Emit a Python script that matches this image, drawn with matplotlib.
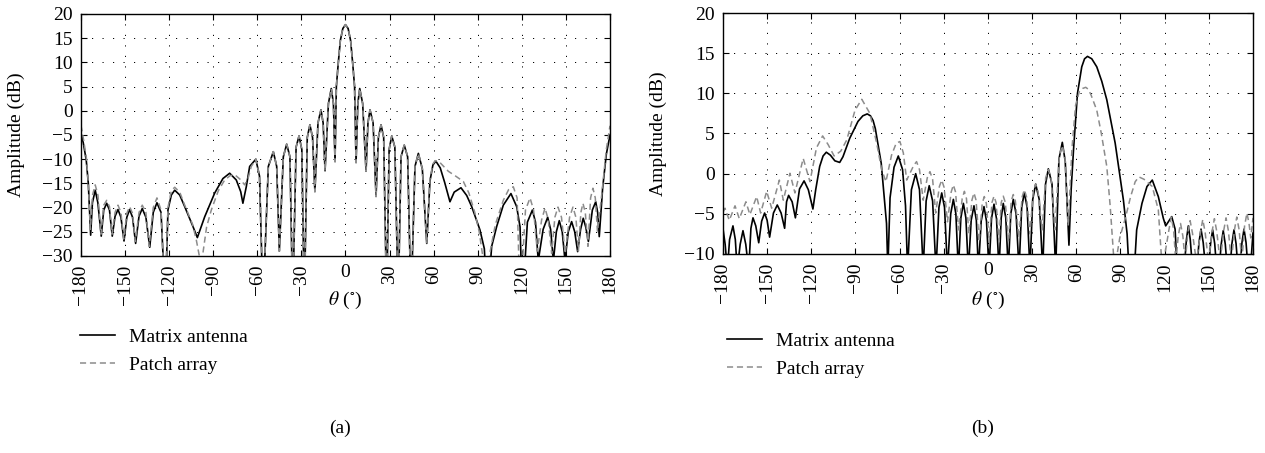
import numpy as np
import matplotlib.pyplot as plt
from matplotlib.lines import Line2D

plt.rcParams['font.family'] = ['Liberation Serif', 'DejaVu Serif']
plt.rcParams['mathtext.fontset'] = 'stix'
plt.rcParams['font.size'] = 14

# ---- panel (a): values (theta in deg, amplitude in dB)
# main beam region is shared by both curves
a_center_theta = [-56.1, -52.5, -49.1, -46.8, -45.0,
                  -42.3, -40.0, -37.8, -35.9,
                  -33.6, -31.6, -29.7, -28.0,
                  -26.0, -24.2, -22.4, -20.8,
                  -18.7, -16.7, -15.2, -13.9,
                  -11.6, -9.65, -8.2, -7.1,
                  -6.2, -5.0, -3.5, -1.8, 0.0, 1.8, 3.5, 5.0, 6.2, 7.2,
                  8.4, 9.7, 11.7, 14.0,
                  15.3, 16.7, 18.8, 20.8,
                  22.4, 24.2, 26.0, 28.0,
                  29.7, 31.5, 33.6, 35.9,
                  37.8, 40.0, 42.3, 44.6,
                  47.3, 49.6, 52.3, 55.3]
a_center_db = [-40, -11.5, -8.45, -11.5, -29,
               -9.5, -6.9, -9.5, -40,
               -7.5, -5.2, -8.0, -40,
               -5.5, -2.9, -5.5, -16.7,
               -2.5, 0.2, -2.5, -12.4,
               1.5, 4.6, 1.5, -10.5,
               5.0, 9.5, 14.5, 17.0, 17.8, 17.0, 14.5, 9.5, 5.0, -10.7,
               1.5, 4.6, 1.5, -12.5,
               -2.5, 0.2, -2.5, -17.7,
               -5.5, -2.9, -5.5, -40,
               -8.0, -5.2, -7.5, -40,
               -9.5, -7.1, -9.5, -40,
               -11.5, -8.8, -12.0, -27.4]

a_matrix_left_theta = [-180, -178.5, -176.4, -175.0, -173.4,
                       -172.2, -170.3, -168.5, -166.2,
                       -164.5, -162.5, -160.6, -158.7,
                       -156.8, -154.8, -152.8, -150.7,
                       -148.8, -146.9, -144.9, -142.8,
                       -140.5, -138.3, -135.8, -133.2,
                       -130.8, -128.3, -125.5, -122.6,
                       -120.8, -118.5, -116.2, -112.8, -109.4, -103.8, -100.8,
                       -95.8, -89.0, -83.4, -78.8, -74.3, -71.3, -69.8, -67.5,
                       -65.2, -61.0, -58.5]
a_matrix_left_db = [-4.6, -6.5, -10.2, -15.0, -25.7,
                    -19.0, -16.4, -19.0, -25.9,
                    -20.5, -19.1, -20.5, -25.9,
                    -21.8, -20.4, -22.0, -26.9,
                    -22.0, -20.4, -22.0, -27.4,
                    -21.8, -20.2, -22.0, -28.2,
                    -21.0, -19.0, -21.0, -40,
                    -20.5, -17.4, -16.4, -17.4, -19.8, -23.9, -26.2,
                    -21.9, -17.0, -14.0, -12.9, -14.3, -16.7, -19.1, -15.7,
                    -11.5, -10.0, -13.5]
a_matrix_right_theta = [57.5, 59.5, 61.5, 64.5, 67.5, 71.1, 74.0, 78.6, 82.5,
                        85.9, 91.5, 94.5, 96.5, 99.5, 102.9, 107.4, 112.6,
                        116.5, 118.8, 120.4,
                        123.8, 127.2, 129.3, 131.2,
                        134.5, 137.6, 139.6, 141.5,
                        143.5, 145.5, 147.5, 149.4,
                        151.6, 153.9, 156.0, 158.0,
                        160.0, 161.8, 163.5, 165.3,
                        168.0, 170.3, 171.6, 172.7,
                        175.0, 177.5, 180.0]
a_matrix_right_db = [-14.5, -11.2, -10.4, -11.8, -14.8, -18.8, -16.8, -15.9, -17.5,
                     -19.8, -24.6, -28.5, -40, -28, -23.9, -19.5, -17.1,
                     -19.8, -24, -40,
                     -23, -20.5, -23, -31,
                     -24.5, -22.0, -24.5, -31,
                     -25, -22.7, -25, -31,
                     -25, -22.9, -25, -29.1,
                     -24.5, -22.2, -24, -27.0,
                     -20.5, -18.8, -21, -26.0,
                     -16, -9, -5.0]

a_patch_left_theta = [-180, -178.5, -176.4, -175.0, -173.6,
                      -172.2, -170.3, -168.4, -166.4,
                      -164.5, -162.5, -160.6, -158.9,
                      -156.8, -154.8, -152.8, -150.9,
                      -148.8, -146.9, -144.9, -143.0,
                      -140.5, -138.3, -135.8, -133.6,
                      -130.8, -128.3, -125.5, -122.8,
                      -120.8, -118.5, -116.2, -112.8, -109.4, -104.0, -101.5, -98.2,
                      -94.5, -91.3, -86.5, -82.2, -78.5, -75.4, -71.5, -68.6,
                      -66.3, -64.1, -61.0, -58.5]
a_patch_left_db = [-3.0, -5.5, -9.5, -15.0, -24.5,
                   -17.5, -15.3, -17.5, -25.5,
                   -19.5, -18.5, -19.8, -25.5,
                   -21.0, -19.5, -21.0, -26.5,
                   -21.2, -19.8, -21.2, -27.0,
                   -21.0, -19.5, -21.0, -28.0,
                   -20.0, -18.0, -20.5, -40,
                   -20.0, -16.5, -15.8, -16.8, -19.5, -23.5, -26.7, -32,
                   -24.0, -20.5, -16.5, -14.3, -13.4, -13.2, -14.2, -15.3,
                   -14.0, -11.5, -10.0, -13.5]
a_patch_right_theta = [57.5, 59.5, 61.0, 64.0, 70.0, 75.0, 80.2, 84.0, 88.0,
                       91.0, 93.4, 95.0, 98.5, 102.0, 107.4, 111.0, 114.2,
                       116.8, 118.8,
                       122.5, 125.6, 128.0, 130.5,
                       133.5, 135.8, 138.0, 140.3,
                       142.5, 144.6, 147.0, 149.5,
                       152.5, 154.8, 156.8, 158.5,
                       160.2, 161.6, 163.2, 165.0,
                       166.8, 168.4, 170.0, 171.5,
                       174.5, 177.5, 180.0]
a_patch_right_db = [-14.0, -11.0, -10.3, -10.6, -12.5, -13.5, -14.6, -17.0, -21.0,
                    -25.0, -30.0, -40, -29.0, -23.5, -18.5, -16.3, -15.7,
                    -18.0, -40,
                    -20.5, -18.0, -20.5, -29,
                    -22.5, -20.1, -22.5, -29.5,
                    -22.0, -19.9, -22.0, -29.5,
                    -22.0, -19.9, -22.0, -29,
                    -21.0, -19.1, -21.0, -28,
                    -18.0, -16.0, -18.0, -25,
                    -17.0, -8.0, -3.1]

# ---- panel (b)
b_matrix_theta = [-180, -178.5, -177.0,
                  -175.5, -173.2, -171.6, -170.3,
                  -168.3, -166.4, -164.5, -162.5,
                  -161.0, -159.6, -157.7, -155.7,
                  -153.7, -151.7, -150.0, -148.3,
                  -145.7, -143.1, -140.5, -138.1,
                  -136.8, -135.4, -133.0, -130.8,
                  -128.0, -124.9, -122.0, -118.9,
                  -117.0, -114.3, -112.0, -109.8, -107.0, -104.0, -100.7, -98.5,
                  -93.9, -88.3, -85.0, -82.0, -79.8, -78.0, -76.5, -72.5, -68.9, -68.0,
                  -66.5, -63.8, -60.9, -58.0, -56.0, -54.6,
                  -52.0, -49.1, -46.5, -44.0,
                  -42.0, -39.9, -37.6, -35.3,
                  -33.3, -31.4, -29.5, -27.5,
                  -25.3, -23.5, -21.8, -20.1,
                  -18.4, -16.7, -15.0, -13.3,
                  -11.4, -9.5, -7.9, -6.5,
                  -4.6, -2.7, -1.0, 0.7,
                  2.4, 4.1, 5.8, 7.5,
                  9.0, 10.4, 12.1, 13.8,
                  15.5, 17.2, 19.1, 21.1,
                  22.9, 24.7, 26.6, 28.5,
                  30.4, 32.4, 34.8, 37.2,
                  39.1, 41.0, 43.5, 46.0,
                  48.2, 50.5, 52.5, 55.0,
                  56.5, 58.1, 60.8, 63.7, 65.6, 67.6, 70.5, 73.9, 77.3, 80.7,
                  86.4, 92.0, 94.5, 97.5,
                  101.0, 104.6, 108.0, 111.6, 115.7, 119.1, 120.7, 124.8, 127.1, 128.5,
                  133.2, 134.8, 136.1, 137.4, 139.0,
                  141.8, 143.3, 144.7, 146.2, 147.9,
                  149.8, 151.2, 152.6, 154.0, 155.4,
                  157.0, 158.4, 159.8, 161.2, 162.6,
                  164.3, 165.7, 167.1, 168.5, 169.9,
                  171.1, 172.5, 173.9, 175.3, 176.7,
                  178.2, 180.0]
b_matrix_db = [-6.8, -8.8, -12,
               -8.2, -6.5, -8.2, -12,
               -8.8, -7.1, -8.8, -12,
               -6.8, -5.5, -6.5, -8.6,
               -5.9, -4.9, -5.8, -7.9,
               -4.9, -3.9, -4.9, -6.8,
               -3.5, -2.7, -3.5, -5.5,
               -1.9, -0.9, -2.0, -4.4,
               -2.0, 0.9, 2.2, 2.67, 2.3, 1.6, 1.4, 2.1,
               4.4, 6.5, 7.2, 7.44, 7.2, 6.6, 5.6, 1.3, -6.2, -12,
               -3.0, 0.8, 2.2, 0.5, -4.0, -12,
               -2.0, 0.0, -2.0, -12,
               -3.4, -1.5, -3.4, -12,
               -4.2, -2.4, -4.2, -12,
               -5.0, -3.2, -5.0, -12,
               -5.5, -3.7, -5.5, -12,
               -5.8, -4.0, -5.8, -12,
               -5.9, -4.1, -5.9, -12,
               -5.6, -3.8, -5.6, -12,
               -5.5, -3.7, -5.5, -12,
               -5.0, -3.2, -5.0, -12,
               -4.2, -2.35, -4.2, -12,
               -3.2, -1.3, -3.2, -12,
               -1.3, 0.6, -1.3, -12,
               1.8, 3.9, 1.5, -8.9,
               -2.0, 2.95, 10.0, 13.3, 14.3, 14.6, 14.3, 13.3, 11.5, 9.2,
               3.8, -3.3, -7.5, -18,
               -7.0, -3.7, -1.6, -0.8, -2.85, -5.55, -6.5, -5.35, -6.9, -12,
               -12, -8.2, -6.5, -8.2, -12,
               -12, -8.6, -6.9, -8.6, -12,
               -12, -8.7, -7.0, -8.7, -12,
               -12, -8.8, -7.1, -8.8, -12,
               -12, -8.7, -7.0, -8.7, -12,
               -12, -8.6, -6.9, -8.6, -12,
               -12, -7.4]

b_patch_theta = [-180, -178.6, -175.7, -171.8, -168.9, -164.4, -161.7, -157.1,
                 -154.4, -150.3, -146.9, -141.7, -139.0, -134.5, -131.1, -125.5,
                 -120.9, -116.5, -112.3, -108.5, -104.5, -100.0, -95.9, -90.3,
                 -85.7, -80.2, -75.6, -72.2, -69.3,
                 -65.5, -62.3, -59.8, -57.5, -55.2,
                 -50.5, -48.5, -46.5, -44.0,
                 -41.2, -39.4, -37.6, -35.5,
                 -33.0, -31.4, -29.8, -27.5,
                 -25.0, -23.5, -22.0, -20.0,
                 -17.5, -16.0, -14.6, -13.0,
                 -10.9, -9.5, -8.1, -6.0,
                 -3.9, -2.5, -1.1, 0.8,
                 2.7, 4.1, 5.5, 7.5,
                 9.0, 10.4, 11.8, 14.0,
                 15.8, 17.2, 18.6, 21.0,
                 23.2, 24.7, 26.2, 28.5,
                 30.8, 32.4, 34.0, 36.8,
                 39.2, 41.0, 42.8, 45.5,
                 48.5, 50.5, 52.3, 54.5,
                 57.0, 59.5, 62.0, 64.2, 66.4, 68.2, 70.0, 73.9, 77.0, 80.7, 83.0, 86.0,
                 89.5, 93.5, 96.9, 100.0, 102.5, 106.0, 111.6, 115.7, 118.4,
                 122.9, 124.5, 126.1, 127.6,
                 129.2, 130.8, 132.4, 134.0,
                 135.7, 137.3, 138.9, 141.6,
                 144.3, 145.9, 147.5, 149.8,
                 152.2, 153.8, 155.4, 157.7,
                 160.1, 161.7, 163.3, 165.3,
                 167.4, 169.0, 170.6, 172.4,
                 174.3, 175.9, 177.3, 178.5, 180.0]
b_patch_db = [-4.8, -4.3, -5.8, -4.0, -5.6, -3.5, -5.1, -2.85,
              -4.9, -2.2, -4.3, -0.8, -3.3, 0.05, -2.4, 1.9,
              -1.0, 3.2, 4.7, 3.6, 2.2, 2.8, 4.2, 7.9,
              9.26, 7.5, 3.8, 0.5, -1.0,
              2.3, 3.8, 4.0, 2.6, -0.8,
              1.0, 1.5, 0.5, -3.3,
              -0.5, 0.25, -0.7, -4.9,
              -1.6, -0.8, -1.7, -6.0,
              -2.3, -1.4, -2.3, -7.0,
              -3.1, -2.2, -3.1, -7.5,
              -3.3, -2.4, -3.3, -8.5,
              -3.7, -2.85, -3.7, -8.5,
              -3.6, -2.8, -3.6, -8.5,
              -3.6, -2.8, -3.6, -8.5,
              -3.4, -2.6, -3.4, -8.0,
              -2.9, -2.0, -2.9, -7.5,
              -2.2, -1.3, -2.2, -7.0,
              -0.5, 0.5, -0.5, -7.0,
              2.3, 3.5, 2.0, -6.5,
              3.0, 8.5, 10.2, 10.6, 10.75, 10.5, 9.8, 7.9, 5.0, 0.9, -4.0, -12,
              -8.0, -5.4, -2.85, -1.0, -0.4, -0.7, -1.6, -4.5, -12,
              -7.0, -5.4, -7.0, -11,
              -7.8, -6.2, -7.8, -11,
              -7.4, -5.85, -7.4, -11,
              -7.3, -5.7, -7.3, -11,
              -7.2, -5.6, -7.2, -11,
              -7.1, -5.5, -7.1, -11,
              -7.0, -5.4, -7.0, -11,
              -6.5, -4.9, -6.2, -8.0, -5.5]

theta_ticks = np.arange(-180, 181, 30)
theta_ticklabels = ['\u2212180', '\u2212150', '\u2212120', '\u221290', '\u221260', '\u221230',
                    '0', '30', '60', '90', '120', '150', '180']
labels = ['Matrix antenna', 'Patch array']

a_matrix_theta = a_matrix_left_theta + a_center_theta + a_matrix_right_theta
a_matrix_db = a_matrix_left_db + a_center_db + a_matrix_right_db
a_patch_theta = a_patch_left_theta + a_center_theta + a_patch_right_theta
a_patch_db = a_patch_left_db + a_center_db + a_patch_right_db

fig = plt.figure(figsize=(12.65, 4.53), dpi=100)
ax1 = fig.add_axes([0.0640, 0.4349, 0.4182, 0.5342])
ax2 = fig.add_axes([0.5715, 0.4393, 0.4190, 0.5320])

def style(ax, ylo, yhi):
    ax.set_xlim(-180, 180)
    ax.set_ylim(ylo, yhi)
    ax.set_yticks(np.arange(ylo, yhi + 1, 5))
    ax.set_xticks(theta_ticks)
    ax.tick_params(direction='in', length=4, width=0.8, top=True, right=True,
                   pad=6, labelsize=14)
    ax.set_xticklabels(theta_ticklabels, rotation=90, va='top')
    for lbl in ax.get_xticklabels():
        if lbl.get_text() == '0':
            lbl.set_rotation(0)
    ax.grid(True, color='k', lw=0.7, ls=(0, (1.2, 9.6)))
    for s in ax.spines.values():
        s.set_linewidth(1.0)
    ax.set_ylabel('Amplitude (dB)', fontsize=14)
    ax.yaxis.set_label_coords(-0.105, 0.5)

ax1.plot(a_matrix_theta, a_matrix_db, color='k', lw=1.2)
ax1.plot(a_patch_theta, a_patch_db, color='0.55', lw=1.1, ls=(0, (4, 2.5)))
style(ax1, -30, 20)

ax2.plot(b_matrix_theta, b_matrix_db, color='k', lw=1.2)
ax2.plot(b_patch_theta, b_patch_db, color='0.55', lw=1.1, ls=(0, (4, 2.5)))
style(ax2, -10, 20)

# x labels, legends and panel tags below the axes
for xc, tag in [(345 / 1265, '(a)'), (988 / 1265, '(b)')]:
    fig.text(xc, 1 - 300 / 453, r'$\theta$ ($^{\circ}$)', ha='center', va='center', fontsize=14)
    fig.text(xc - 0.004, 1 - 428 / 453, tag, ha='center', va='center', fontsize=14)

handles = [Line2D([], [], color='k', lw=1.2),
           Line2D([], [], color='0.55', lw=1.1, ls=(0, (4, 2.5)))]
for x0, ytop in [(80 / 1265, 1 - 328 / 453), (727 / 1265, 1 - 332 / 453)]:
    fig.legend(handles, labels, loc='upper left', bbox_to_anchor=(x0, ytop),
               bbox_transform=fig.transFigure, frameon=False, borderpad=0,
               borderaxespad=0, handlelength=1.8, handletextpad=0.7,
               labelspacing=0.55, fontsize=14)

fig.savefig('out.png', dpi=100)
